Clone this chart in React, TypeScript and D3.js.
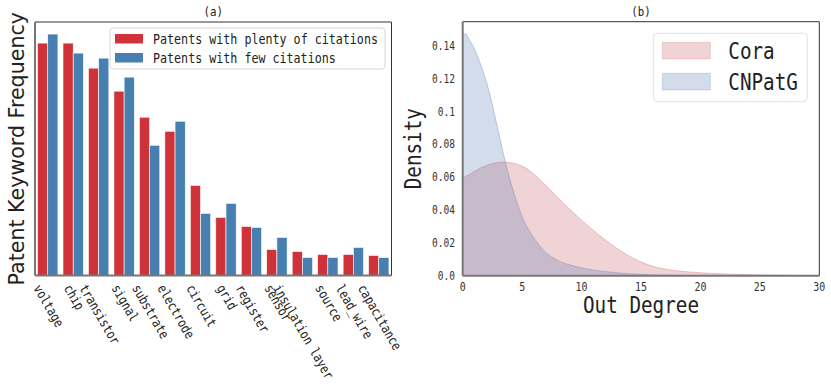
import React, { useEffect, useRef } from 'react';
import * as d3 from 'd3';

// (a) keyword frequencies (arbitrary units)
const keywords = ['voltage', 'chip', 'transistor', 'signal', 'substrate', 'electrode', 'circuit',
  'grid', 'register', 'sensor', 'insulation layer', 'source', 'lead_wire', 'capacitance'];
const plentyCitations = [232, 232, 207, 184, 158, 144, 90, 58, 49, 26, 24, 21, 21, 20];
const fewCitations = [241, 222, 217, 198, 130, 154, 62, 72, 48, 38, 18, 18, 28, 18];
const barSeries = ['Patents with plenty of citations', 'Patents with few citations'];

// (b) out-degree densities
const coraDegree = [0, 0.5, 1, 1.5, 2, 2.5, 3, 3.5, 4, 4.5, 5, 5.5, 6, 7, 8, 9, 10, 11, 12, 13, 14, 15, 16, 17, 18, 20, 22, 25, 28, 30];
const coraDensity = [0.0595, 0.0615, 0.0636, 0.0656, 0.0672, 0.0683, 0.069, 0.0692, 0.0689, 0.0681, 0.0668, 0.0647, 0.0618,
  0.0549, 0.0477, 0.0405, 0.0338, 0.0276, 0.0218, 0.0165, 0.012, 0.0084, 0.0058, 0.0041, 0.003, 0.0018, 0.0011, 0.0005, 0.0002, 0.0001];
const cnpatgDegree = [0, 0.25, 0.5, 1, 1.5, 2, 2.5, 3, 3.5, 4, 4.5, 5, 6, 7, 8, 9, 10, 11, 12, 13, 14, 15, 17, 20, 25, 30];
const cnpatgDensity = [0.1472, 0.1474, 0.1445, 0.138, 0.129, 0.118, 0.104, 0.088, 0.072, 0.058, 0.046, 0.036, 0.023,
  0.0142, 0.0093, 0.0066, 0.0048, 0.0035, 0.0025, 0.0018, 0.0012, 0.0008, 0.0004, 0.0002, 0.00005, 0];
const densityTicks = [0, 0.02, 0.04, 0.06, 0.08, 0.1, 0.12, 0.14];
const densityTickLabels = ['0.0', '0.02', '0.04', '0.06', '0.08', '0.1', '0.12', '0.14'];
const degreeTicks = [0, 5, 10, 15, 20, 25, 30];
const densitySeries = ['Cora', 'CNPatG'];

const MONO = "'DejaVu Sans Mono', 'Liberation Mono', monospace";
const RED = '#cf3339';
const BLUE = '#467fb0';
const PINK = '#c44e52';
const DEEPBLUE = '#4c72b0';

// half-width glyphs like the original CJK font
const mono = (sel: any, txt: string, size: number) =>
  sel.text(txt)
    .attr('font-family', MONO)
    .attr('font-size', size)
    .attr('textLength', txt.length * size * 0.5)
    .attr('lengthAdjust', 'spacingAndGlyphs');

const spines = (g: any, x0: number, y0: number, x1: number, y1: number) => {
  g.append('line').attr('x1', x0).attr('y1', y0).attr('x2', x1).attr('y2', y0).attr('stroke', '#333').attr('stroke-width', 1);
  g.append('line').attr('x1', x1).attr('y1', y0).attr('x2', x1).attr('y2', y1).attr('stroke', '#333').attr('stroke-width', 1);
  g.append('line').attr('x1', x0).attr('y1', y0).attr('x2', x0).attr('y2', y1).attr('stroke', '#777').attr('stroke-width', 2);
  g.append('line').attr('x1', x0).attr('y1', y1).attr('x2', x1).attr('y2', y1).attr('stroke', '#777').attr('stroke-width', 2);
};

const App = () => {
  const ref = useRef<SVGSVGElement>(null);

  useEffect(() => {
    const svg = d3.select(ref.current);
    svg.selectAll('*').remove();

    // ---------- (a) bars ----------
    const aL = 35, aR = 391.5, aT = 22, aB = 275.5;
    const x = d3.scaleBand().domain(keywords).range([aL, aR]);
    const y = d3.scaleLinear().domain([0, d3.max(fewCitations.concat(plentyCitations))! * 1.05]).range([aB, aT]);
    const bw = x.bandwidth() * 0.4;
    const a = svg.append('g');

    a.selectAll('rect.red').data(plentyCitations).enter().append('rect')
      .attr('x', (d, i) => x(keywords[i])! + x.bandwidth() / 2 - bw)
      .attr('y', d => y(d))
      .attr('width', bw)
      .attr('height', d => aB - y(d))
      .attr('fill', RED).attr('stroke', '#fff').attr('stroke-width', 0.6);
    a.selectAll('rect.blue').data(fewCitations).enter().append('rect')
      .attr('x', (d, i) => x(keywords[i])! + x.bandwidth() / 2)
      .attr('y', d => y(d))
      .attr('width', bw)
      .attr('height', d => aB - y(d))
      .attr('fill', BLUE).attr('stroke', '#fff').attr('stroke-width', 0.6);

    spines(a, aL, aT, aR, aB);

    // rotated tick labels, bbox centred under the group
    keywords.forEach(k => {
      const cx = x(k)! + x.bandwidth() / 2;
      const L = k.length * 6.65;
      mono(a.append('text')
        .attr('transform', `translate(${cx - L / 4 - 3},288) rotate(60)`)
        .attr('fill', '#222'), k, 13.4)
        .attr('textLength', L);
    });

    a.append('text')
      .attr('transform', `translate(23.5,${(aT + aB) / 2}) rotate(-90)`)
      .attr('text-anchor', 'middle')
      .attr('font-family', "'DejaVu Sans', sans-serif")
      .attr('font-size', 20.6)
      .attr('fill', '#222')
      .text('Patent Keyword Frequency');

    mono(a.append('text').attr('x', (aL + aR) / 2).attr('y', 16).attr('text-anchor', 'middle').attr('fill', '#222'), '(a)', 13);

    const lg = a.append('g');
    lg.append('rect').attr('x', 110).attr('y', 28).attr('width', 275).attr('height', 41).attr('rx', 3)
      .attr('fill', '#fff').attr('fill-opacity', 0.85).attr('stroke', '#d8d8d8');
    [RED, BLUE].forEach((c, i) => {
      lg.append('rect').attr('x', 115).attr('y', 34 + i * 19).attr('width', 28).attr('height', 9.5).attr('fill', c);
      mono(lg.append('text').attr('x', 153).attr('y', 44.3 + i * 18.2).attr('fill', '#222'), barSeries[i], 14.06);
    });

    // ---------- (b) densities ----------
    const bL = 462.7, bR = 819.3, bT = 21.7, bB = 275.7;
    const dx = d3.scaleLinear().domain([0, 30]).range([bL, bR]);
    const dy = d3.scaleLinear().domain([0, d3.max(cnpatgDensity)! * 1.05]).range([bB, bT]);
    const b = svg.append('g');
    const area = d3.area<[number, number]>()
      .x(d => dx(d[0])).y0(bB).y1(d => dy(d[1]))
      .curve(d3.curveMonotoneX);
    const line = d3.line<[number, number]>()
      .x(d => dx(d[0])).y(d => dy(d[1]))
      .curve(d3.curveMonotoneX);

    const curves: [number[], number[], string][] = [
      [coraDegree, coraDensity, PINK],
      [cnpatgDegree, cnpatgDensity, DEEPBLUE],
    ];
    curves.forEach(([xs, ys, c]) => {
      const pts = xs.map((v, i) => [v, ys[i]] as [number, number]);
      b.append('path').attr('d', area(pts)).attr('fill', c).attr('fill-opacity', 0.25);
      b.append('path').attr('d', line(pts)).attr('fill', 'none').attr('stroke', c).attr('stroke-opacity', 0.3).attr('stroke-width', 1);
    });

    spines(b, bL, bT, bR, bB);

    densityTicks.forEach((t, i) => {
      mono(b.append('text').attr('x', 455).attr('y', dy(t) + 4).attr('text-anchor', 'end').attr('fill', '#333'),
        densityTickLabels[i], 11.5);
    });
    degreeTicks.forEach(t => {
      mono(b.append('text').attr('x', dx(t)).attr('y', 290.5).attr('text-anchor', 'middle').attr('fill', '#333'),
        String(t), 12);
    });

    mono(b.append('text').attr('x', (bL + bR) / 2).attr('y', 312.5).attr('text-anchor', 'middle').attr('fill', '#222'),
      'Out Degree', 23.2);
    mono(b.append('text').attr('transform', `translate(421,${(bT + bB) / 2}) rotate(-90)`)
      .attr('text-anchor', 'middle').attr('fill', '#222'), 'Density', 23.2);
    mono(b.append('text').attr('x', (bL + bR) / 2).attr('y', 16).attr('text-anchor', 'middle').attr('fill', '#222'), '(b)', 13);

    const lb = b.append('g');
    lb.append('rect').attr('x', 653.3).attr('y', 33.3).attr('width', 154).attr('height', 68.4).attr('rx', 4)
      .attr('fill', '#fff').attr('fill-opacity', 0.85).attr('stroke', '#e0e0e0');
    [PINK, DEEPBLUE].forEach((c, i) => {
      lb.append('rect').attr('x', 662.3).attr('y', 42.3 + i * 31).attr('width', 48).attr('height', 16.7)
        .attr('fill', c).attr('fill-opacity', 0.25).attr('stroke', c).attr('stroke-opacity', 0.2);
      mono(lb.append('text').attr('x', 728.3).attr('y', 58.7 + i * 31.3).attr('fill', '#222'), densitySeries[i], 23.2);
    });
  }, []);

  return (
    <svg
      ref={ref}
      width={831}
      height={392}
      style={{ position: 'absolute', left: 0, top: 0, background: '#fff' }}
    />
  );
};

export default App;
